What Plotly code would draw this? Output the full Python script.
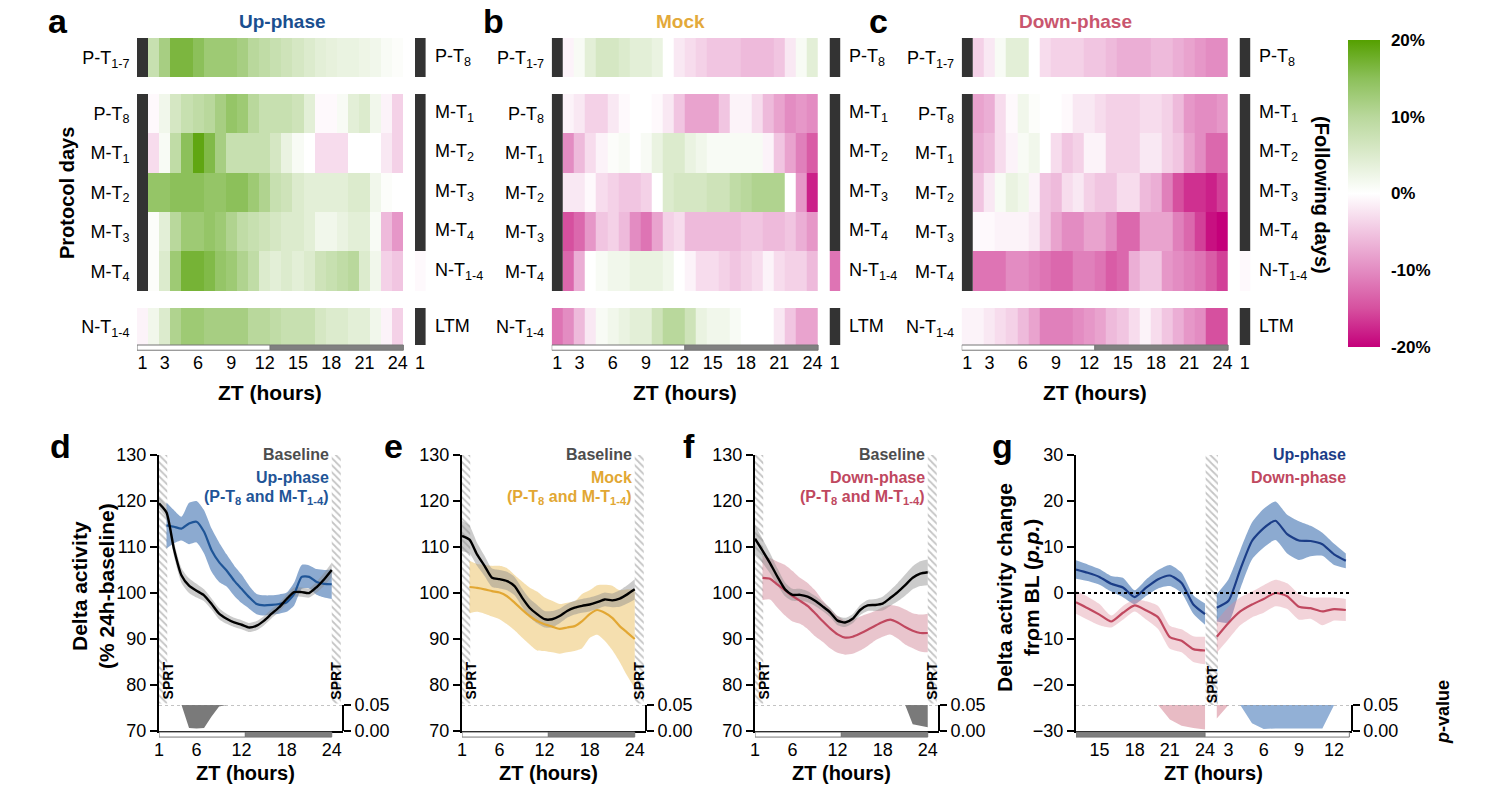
import plotly.graph_objects as go

W, H = 1500, 802
def fx(p): return p / W
def fy(p): return 1 - p / H
FONT = "Liberation Sans, Arial, Helvetica, sans-serif"

# ------------------------------------------------------------------ heatmap data
# % change per ZT hour 1..24 ; None = SPRT hour (drawn black)
hm_tick_vals = [1, 3, 6, 9, 12, 15, 18, 21, 24, 26]
hm_tick_text = ["1", "3", "6", "9", "12", "15", "18", "21", "24", "1"]
row_left = ["P-T<sub>1-7</sub>", "P-T<sub>8</sub>", "M-T<sub>1</sub>", "M-T<sub>2</sub>",
            "M-T<sub>3</sub>", "M-T<sub>4</sub>", "N-T<sub>1-4</sub>"]
row_right = ["P-T<sub>8</sub>", "M-T<sub>1</sub>", "M-T<sub>2</sub>", "M-T<sub>3</sub>",
             "M-T<sub>4</sub>", "N-T<sub>1-4</sub>", "LTM"]

up_P17 = [None, 8, 12, 16.5, 16.5, 15, 13, 13, 13, 12, 10, 9, 8, 7, 6, 5, 4, 3.5, 3, 3, 2.5, 2, 1, 0.5]
up_PT8 = [None, -0.5, 2, 6, 8, 9, 10, 12, 14, 13, 10, 8, 8, 8, 7, 4, -0.5, -0.5, 1, 4, 5, 2, -1, -4]
up_MT1 = [None, -3, 1, 9, 15, 19, 16, 12, 8, 8, 8, 8, 6, 3, 1, 0, -3, -3, -3, 0, 0, 0, -2, -4]
up_MT2 = [None, 14, 14, 15, 15, 15, 14, 14, 15, 15, 13, 11, 8, 7, 5, 4, 4, 4, 4, 5, 5, 2, 0.5, 0]
up_MT3 = [None, 0.5, 4, 10, 13, 13, 14, 13, 11, 9, 8, 7, 6, 5, 5, 4, 2, 2, 3, 4, 4, 1, -6, -9]
up_MT4 = [None, 0.5, 5, 13, 17, 17, 16, 14, 13, 11, 9, 5, 4, 5, 4, 5, 7, 8, 9, 10, 5, 2, -4, -5]
up_NT = [-1, 2, 5, 11, 13, 13, 12, 12, 12, 12, 10, 10, 9, 8, 8, 8, 6, 5, 5, 4, 4, 2, -1, -4]
up_next = [None, None, None, None, None, -0.5, None]

mock_P17 = [None, -1, 1, 4, 6, 6, 5, 4, 4, 3, 0, -2, -3, -4, -5, -5, -5, -6, -6, -6, -5, -2, 1, 4]
mock_PT8 = [None, -1, -2, -4, -4, -2, -0.5, 0, 0, -0.5, -2, -5, -8, -8, -8, -5, -1, -1, -3, -6, -8, -10, -9, -10]
mock_MT1 = [None, -10, -6, -3, -1, 0.5, 1, 0, 1, 3, 5, 5, 3, 2, 1, 1, 1, 1, 1, -1, -5, -8, -11, -14]
mock_MT2 = [None, -2, -2, -0.5, -3, -4, -5, -5, -4, 0, 5, 6, 6, 6, 7, 7, 9, 10, 11, 11, 11, 0, -9, -18]
mock_MT3 = [None, -15, -13, -9, -5, -4, -6, -10, -12, -8, -4, -3, -6, -6, -6, -6, -6, -5, -5, -6, -6, -5, -7, -9]
mock_MT4 = [None, -13, -7, 0, 1, 2, 2, 3, 3, 3, 2, 0, -1, -3, -3, -4, -5, -4, -3, -1, -3, -4, -4, -6]
mock_NT = [-12, -10, -6, -2, 1, 2, 3, 4, 4, 7, 10, 10, 7, 3, 2, 2, 1, 0, 0, 0, -2, -5, -8, -8]
mock_next = [None, None, None, None, None, -12, None]

down_P17 = [None, -4, -2, 1, 4, 4, 0, -3, -4, -4, -4, -5, -5, -6, -7, -7, -7, -6, -6, -7, -8, -9, -10, -10]
down_PT8 = [None, -8, -7, -3, -0.5, 2, 0.5, 0, 0, -0.5, -2, -2, -3, -4, -4, -4, -3, -3, -4, -6, -9, -10, -10, -9]
down_MT1 = [None, -7, -6, -3, -1, 1, 2, 0, -3, -5, -4, -1, -1, -4, -4, -4, -2, -2, -4, -5, -8, -10, -13, -13]
down_MT2 = [None, -5, -2, 1, 3, 2, -1, -5, -6, -3, -2, -4, -5, -5, -3, -3, -6, -7, -11, -15, -17, -17, -18, -16]
down_MT3 = [None, -0.5, -0.5, -1, -1, -1, -2, -5, -8, -10, -10, -8, -8, -10, -13, -13, -8, -8, -8, -11, -13, -16, -19, -20]
down_MT4 = [None, -12, -12, -12, -10, -10, -11, -12, -13, -13, -11, -11, -12, -14, -13, -7, -5, -5, -9, -10, -11, -12, -14, -16]
down_NT = [-1, -1, -2, -3, -4, -6, -8, -11, -11, -11, -10, -9, -8, -6, -5, -3, -1, -3, -5, -7, -9, -10, -15, -15]
down_next = [None, None, None, None, None, -0.5, None]

# ------------------------------------------------------------------ line panel data
zt = list(range(1, 25))
d_base = [119.5, 117.5, 109.5, 103.8, 101.6, 100.5, 99.5, 97.6, 95.5, 94.4, 93.6, 93.1,
          92.5, 92.9, 94.0, 95.5, 96.9, 98.7, 100.2, 100.2, 100.0, 101.3, 103.0, 105.0]
d_base_sem = [1.2, 1.3, 1.5, 1.6, 1.6, 1.5, 1.3, 1.2, 1.2, 1.1, 1.0, 1.0,
              1.0, 1.0, 1.0, 1.0, 1.0, 1.0, 1.0, 1.0, 1.0, 1.2, 1.4, 1.6]
d_up = [None, 114.7, 114.4, 114.0, 115.1, 115.5, 113.3, 109.3, 106.7, 104.9, 102.7, 100.9,
        99.1, 97.6, 97.3, 97.4, 97.6, 98.0, 99.8, 103.5, 103.5, 102.4, 102.0, 101.9]
d_up_sem = [None, 5.0, 3.6, 2.6, 4.5, 4.5, 4.7, 4.7, 4.3, 3.5, 3.3, 3.1,
            2.5, 2.2, 2.2, 2.1, 2.1, 2.1, 2.5, 2.6, 2.5, 2.8, 3.0, 3.2]
d_p = [None, None, None, 0.05, 0.006, 0.005, 0.006, 0.028, 0.047, None, None, None,
       None, None, None, None, None, None, None, None, None, None, None, None]

e_base = [112.4, 111.6, 108.4, 105.9, 103.3, 103.0, 102.6, 101.5, 99.0, 96.8, 95.4, 94.3,
          94.3, 95.0, 96.1, 96.8, 97.2, 97.5, 98.0, 98.6, 98.4, 98.8, 99.7, 100.8]
e_base_sem = [3.3, 3.0, 2.5, 2.2, 2.0, 2.0, 2.0, 2.0, 2.0, 2.0, 2.0, 1.8,
              1.8, 1.6, 1.5, 1.5, 1.5, 1.5, 1.5, 1.5, 1.5, 1.8, 2.0, 2.2]
e_mock = [None, 101.3, 101.1, 100.8, 100.4, 100.1, 99.3, 97.9, 96.4, 95.0, 93.9, 93.2,
          92.7, 92.2, 92.5, 92.8, 93.9, 95.4, 96.3, 95.7, 94.6, 92.8, 91.4, 90.0]
e_mock_sem = [None, 5.7, 5.2, 5.3, 5.5, 5.8, 6.1, 6.0, 6.1, 6.2, 6.4, 5.8,
              5.6, 5.4, 5.4, 5.4, 5.9, 5.2, 5.4, 6.1, 7.0, 7.8, 9.4, 10.7]

f_base = [111.8, 109.2, 106.5, 103.5, 100.8, 99.6, 99.6, 99.2, 98.3, 97.1, 95.8, 94.0,
          93.6, 94.4, 96.3, 97.3, 97.4, 97.7, 98.9, 100.2, 101.7, 103.3, 104.2, 104.5]
f_base_sem = [3.0, 2.6, 2.2, 1.8, 1.5, 1.3, 1.3, 1.2, 1.1, 1.0, 1.0, 1.0,
              1.0, 1.0, 1.1, 1.2, 1.3, 1.5, 1.7, 2.0, 2.3, 2.5, 2.7, 2.8]
f_down = [None, 103.3, 103.1, 101.8, 100.6, 99.3, 98.3, 97.2, 95.6, 93.9, 92.3, 91.0,
          90.3, 90.5, 91.2, 92.0, 92.9, 93.7, 94.2, 93.6, 92.6, 91.8, 91.3, 91.3]
f_down_sem = [None, 4.8, 4.5, 5.0, 5.5, 5.5, 5.0, 5.0, 5.0, 4.5, 4.3, 4.0,
              3.7, 3.7, 3.7, 3.5, 3.2, 3.2, 3.2, 3.5, 3.8, 3.8, 4.0, 4.2]
f_p = [None, None, None, None, None, None, None, None, None, None, None, None,
       None, None, None, None, None, None, None, None, 0.05, 0.013, 0.01, 0.007]

# panel g: ZT 13..24 (baseline day) then ZT 2..13 (after SPRT)
g_hours_a = list(range(13, 25))
g_hours_b = list(range(2, 14))
g_up_a = [5.1, 4.4, 3.5, 2.0, 1.2, -0.9, 1.2, 3.0, 3.8, 2.2, -2.5, -4.6]
g_up_a_sem = [2.0, 1.8, 1.7, 1.7, 2.1, 1.5, 1.8, 2.0, 2.3, 2.2, 2.0, 2.3]
g_up_b = [-3.2, -1.7, 5.1, 11.3, 14.1, 15.7, 12.8, 11.4, 11.3, 10.6, 8.4, 7.0]
g_up_b_sem = [3.0, 4.7, 4.2, 4.0, 4.2, 4.2, 4.2, 4.2, 3.3, 2.5, 2.3, 1.6]
g_dn_a = [-2.0, -3.3, -4.7, -6.2, -4.3, -2.7, -3.8, -5.3, -9.6, -10.4, -12.2, -12.5]
g_dn_a_sem = [2.5, 2.5, 2.3, 1.3, 1.5, 1.3, 2.0, 2.5, 2.5, 2.5, 2.8, 3.0]
g_dn_b = [-9.5, -6.5, -4.0, -2.5, -1.3, 0.0, -0.7, -3.0, -3.3, -4.0, -3.5, -3.7]
g_dn_b_sem = [3.5, 3.5, 3.0, 2.8, 3.0, 2.9, 2.8, 2.8, 2.3, 3.0, 2.5, 2.4]
g_p_dn_a = [None, None, None, None, None, None, None, 0.05, 0.022, 0.01, 0.006, 0.003]
g_p_dn_b = [0.024, 0.05, None, None, None, None, None, None, None, None, None, None]
g_p_up_b = [None, None, 0.05, 0.015, 0.004, 0.005, 0.005, 0.005, 0.005, 0.005, 0.05, None]
g_tick_vals = [15, 18, 21, 24, 26, 29, 32, 35]
g_tick_text = ["15", "18", "21", "24", "3", "6", "9", "12"]

# ------------------------------------------------------------------ colours
CSCALE = [[0.0, "#c4007a"], [0.125, "#d6509f"], [0.25, "#e38cc2"], [0.375, "#f1c5e1"],
          [0.5, "#ffffff"], [0.625, "#dcebcd"], [0.75, "#b9d89c"], [0.875, "#8cc05a"],
          [1.0, "#55a000"]]
BLUE = "#1f5597"
BLUE_G = "#1b3d87"
BLUE_BAND = "rgba(64,113,176,0.6)"
YEL = "#e2a733"
YEL_BAND = "rgba(236,196,110,0.55)"
RED = "#c0485f"
RED_BAND = "rgba(200,110,130,0.40)"
RED_BAND_G = "rgba(220,140,155,0.38)"
GRAY_BAND = "rgba(140,140,140,0.45)"

fig = go.Figure()
shapes = []
annotations = []
layout_axes = {}


def ptext(text, xp, yp, size, color="black", angle=0, xanchor="center", yanchor="middle"):
    annotations.append(dict(text=text, x=fx(xp), y=fy(yp), xref="paper", yref="paper",
                            xanchor=xanchor, yanchor=yanchor, showarrow=False,
                            textangle=angle, font=dict(size=size, color=color)))

# ------------------------------------------------------------------ heatmaps
row_edges = [0, 1, 1.41, 2.41, 3.41, 4.41, 5.41, 6.41, 6.84, 7.78]
row_slots = [0, 2, 3, 4, 5, 6, 8]
row_centers = [(row_edges[s] + row_edges[s + 1]) / 2 for s in row_slots]
col_edges = [h - 0.5 for h in range(1, 28)]


def build(rows, nxt):
    z = [[None] * 26 for _ in range(9)]
    m = [[None] * 26 for _ in range(9)]
    for r, slot in enumerate(row_slots):
        for c, v in enumerate(rows[r]):
            if v is None:
                m[slot][c] = 1
            else:
                z[slot][c] = v
        if nxt[r] is None:
            m[slot][25] = 1
        else:
            z[slot][25] = nxt[r]
    return z, m


hm_panels = [
    ("x", "y", [up_P17, up_PT8, up_MT1, up_MT2, up_MT3, up_MT4, up_NT], up_next, 137.0),
    ("x2", "y2", [mock_P17, mock_PT8, mock_MT1, mock_MT2, mock_MT3, mock_MT4, mock_NT], mock_next, 551.7),
    ("x3", "y3", [down_P17, down_PT8, down_MT1, down_MT2, down_MT3, down_MT4, down_NT], down_next, 961.7),
]

for i, (xa, ya, rows, nxt, x0) in enumerate(hm_panels):
    z, m = build(rows, nxt)
    fig.add_trace(go.Heatmap(x=col_edges, y=row_edges, z=z, coloraxis="coloraxis",
                             xaxis=xa, yaxis=ya, hoverongaps=False))
    fig.add_trace(go.Heatmap(x=col_edges, y=row_edges, z=m,
                             colorscale=[[0, "#333333"], [1, "#333333"]], zmin=0, zmax=1,
                             showscale=False, xaxis=xa, yaxis=ya, hoverongaps=False))
    n = "" if i == 0 else str(i + 1)
    layout_axes["xaxis" + n] = dict(domain=[fx(x0), fx(x0 + 288.6)], range=[0.5, 26.5],
                                    anchor=ya, tickvals=hm_tick_vals, ticktext=hm_tick_text,
                                    ticks="", ticklabelstandoff=5,
                                    showgrid=False, zeroline=False, showline=False,
                                    automargin=False, tickfont=dict(size=18))
    layout_axes["yaxis" + n] = dict(domain=[fy(345), fy(38)], range=[7.78, 0], anchor=xa,
                                    tickvals=row_centers, ticktext=row_left,
                                    ticks="outside", ticklen=3, tickcolor="rgba(0,0,0,0)",
                                    showgrid=False, zeroline=False, showline=False,
                                    automargin=False, tickfont=dict(size=18))
    # light / dark bar
    shapes.append(dict(type="rect", xref=xa, yref=ya + " domain", x0=0.5, x1=12.5,
                       y0=-0.017, y1=0, fillcolor="white", line=dict(color="#777", width=1)))
    shapes.append(dict(type="rect", xref=xa, yref=ya + " domain", x0=12.5, x1=24.5,
                       y0=-0.017, y1=0, fillcolor="#808080", line=dict(color="#777", width=1)))
    for lab, yc in zip(row_right, row_centers):
        annotations.append(dict(text=lab, x=1, xref=xa + " domain", xanchor="left", xshift=7,
                                y=yc, yref=ya, yanchor="middle", showarrow=False,
                                font=dict(size=18)))
    annotations.append(dict(text="<b>ZT (hours)</b>", x=12.5, xref=xa, y=fy(393), yref="paper",
                            xanchor="center", yanchor="middle", showarrow=False,
                            font=dict(size=21)))

# titles / letters
for txt, xp, col in [("Up-phase", 282, "#1a4f8f"), ("Mock", 680, "#e3a93a"),
                     ("Down-phase", 1075, "#c9566e")]:
    ptext("<b>%s</b>" % txt, xp, 22, 19, col)
for txt, xp, yp in [("a", 58, 21), ("b", 494, 21), ("c", 878, 21),
                    ("d", 60, 446), ("e", 393, 446), ("f", 689, 446), ("g", 1002, 446)]:
    ptext("<b>%s</b>" % txt, xp, yp, 34)
ptext("<b>Protocol days</b>", 67, 193, 20, angle=-90)
ptext("<b>(Following days)</b>", 1322, 195, 20, angle=90)

# ------------------------------------------------------------------ line panel helpers
def band(x, mean, sem, color, xa, ya):
    pts = [(xi, m, s) for xi, m, s in zip(x, mean, sem) if m is not None]
    xs = [p[0] for p in pts]
    fig.add_trace(go.Scatter(x=xs, y=[p[1] + p[2] for p in pts], mode="lines",
                             line=dict(width=0, shape="spline", smoothing=0.6),
                             xaxis=xa, yaxis=ya, hoverinfo="skip", showlegend=False))
    fig.add_trace(go.Scatter(x=xs, y=[p[1] - p[2] for p in pts], mode="lines",
                             line=dict(width=0, shape="spline", smoothing=0.6),
                             fill="tonexty", fillcolor=color,
                             xaxis=xa, yaxis=ya, hoverinfo="skip", showlegend=False))


def line(x, mean, color, xa, ya, width=2.2):
    pts = [(xi, m) for xi, m in zip(x, mean) if m is not None]
    fig.add_trace(go.Scatter(x=[p[0] for p in pts], y=[p[1] for p in pts], mode="lines",
                             line=dict(color=color, width=width, shape="spline", smoothing=0.6),
                             xaxis=xa, yaxis=ya, hoverinfo="skip", showlegend=False))


def pfill(x, p, color, xa, ya):
    thr = [0.05 for _ in x]
    low = [min(v, 0.05) if v is not None else 0.05 for v in p]
    fig.add_trace(go.Scatter(x=x, y=thr, mode="lines", line=dict(width=0),
                             xaxis=xa, yaxis=ya, hoverinfo="skip", showlegend=False))
    fig.add_trace(go.Scatter(x=x, y=low, mode="lines", line=dict(width=0), fill="tonexty",
                             fillcolor=color, xaxis=xa, yaxis=ya, hoverinfo="skip",
                             showlegend=False))


def hatch(x0, x1, y0, y1, xa, ya):
    fig.add_trace(go.Scatter(x=[x0, x1, x1, x0, x0], y=[y0, y0, y1, y1, y0], mode="lines",
                             line=dict(width=0), fill="toself", fillcolor="white",
                             fillpattern=dict(shape="\\", fgcolor="#8a8a8a", bgcolor="white",
                                              size=5, solidity=0.35),
                             xaxis=xa, yaxis=ya, hoverinfo="skip", showlegend=False))


def sprt(x, y, xa, ya):
    annotations.append(dict(text="<b>SPRT</b>", x=x, y=y, xref=xa, yref=ya, showarrow=False,
                            xanchor="center", yanchor="middle",
                            textangle=-90, font=dict(size=14, color="black")))


AX_LINE = dict(showline=True, linecolor="black", linewidth=2, showgrid=False, zeroline=False,
               automargin=False)
MAIN_DOM_Y = [fy(731), fy(455)]
P_DOM_Y = [fy(731), fy(705)]


def main_axes(n, pn, x0, x1, xrange, xtv, xtt, yrange, ytv):
    layout_axes["xaxis%d" % n] = dict(domain=[fx(x0), fx(x1)], range=xrange, anchor="y%d" % n,
                                      tickvals=xtv, ticktext=xtt, ticks="", ticklabelstandoff=1,
                                      tickfont=dict(size=18), **AX_LINE)
    layout_axes["yaxis%d" % n] = dict(domain=MAIN_DOM_Y, range=yrange, anchor="x%d" % n,
                                      tickvals=ytv, ticks="outside", ticklen=7, tickwidth=2,
                                      tickcolor="black", tickfont=dict(size=18), **AX_LINE)
    layout_axes["yaxis%d" % pn] = dict(domain=P_DOM_Y, range=[0, 0.05], anchor="free",
                                       position=fx(x1), side="right", tickvals=[0, 0.05],
                                       ticktext=["0.00", "0.05"], ticks="outside", ticklen=7,
                                       tickwidth=2, tickcolor="black", tickfont=dict(size=18),
                                       **AX_LINE)
    shapes.append(dict(type="line", xref="x%d domain" % n, yref="y%d" % pn, x0=0, x1=1,
                       y0=0.05, y1=0.05, line=dict(color="#888", width=1, dash="dot")))


def daybar(xa, ya, a0, a1, a2, first_light=True):
    c1, c2 = ("white", "#7f7f7f") if first_light else ("#7f7f7f", "white")
    shapes.append(dict(type="rect", xref=xa, yref=ya + " domain", x0=a0, x1=a1, y0=-0.022,
                       y1=-0.004, fillcolor=c1, line=dict(color="#777", width=1)))
    shapes.append(dict(type="rect", xref=xa, yref=ya + " domain", x0=a1, x1=a2, y0=-0.022,
                       y1=-0.004, fillcolor=c2, line=dict(color="#777", width=1)))


def legend(lines, xr):
    for txt, col, yp in lines:
        ptext("<b>%s</b>" % txt, xr, yp, 16, col, xanchor="right")


sub_lbl = "(P-T<sub>8</sub> and M-T<sub>1-4</sub>)"

# panels d, e, f
lp = [
    (4, 8, 159, d_base, d_base_sem, d_up, d_up_sem, BLUE, BLUE_BAND, d_p, "Up-phase"),
    (5, 9, 462, e_base, e_base_sem, e_mock, e_mock_sem, YEL, YEL_BAND, None, "Mock"),
    (6, 10, 755, f_base, f_base_sem, f_down, f_down_sem, RED, RED_BAND, f_p, "Down-phase"),
]
for n, pn, x0, base, base_sem, tr, tr_sem, col, bcol, pv, name in lp:
    xa, ya, pa = "x%d" % n, "y%d" % n, "y%d" % pn
    main_axes(n, pn, x0, x0 + 184, [1, 25.5], [1, 6, 12, 18, 24], ["1", "6", "12", "18", "24"],
              [70, 130], [70, 80, 90, 100, 110, 120, 130])
    hatch(1, 2.1, 76, 130, xa, ya)
    hatch(24, 25.2, 76, 130, xa, ya)
    band(zt, tr, tr_sem, bcol, xa, ya)
    band(zt, base, base_sem, GRAY_BAND, xa, ya)
    line(zt, tr, col, xa, ya)
    line(zt, base, "black", xa, ya, 2.4)
    if pv is not None:
        pfill(zt, pv, "#7a7a7a", xa, pa)
    sprt(2.2, 81, xa, ya)
    sprt(24.6, 81, xa, ya)
    daybar(xa, ya, 1, 12.5, 24)
    legend([("Baseline", "#4d4d4d", 454), (name, col, 477), (sub_lbl, col, 497)], x0 + 172)
    annotations.append(dict(text="<b>ZT (hours)</b>", x=12.5, xref=xa, y=fy(773), yref="paper",
                            xanchor="center", yanchor="middle", showarrow=False,
                            font=dict(size=20)))

ptext("<b>Delta activity</b>", 79, 586, 21, angle=-90)
ptext("<b>(% 24h-baseline)</b>", 106, 586, 21, angle=-90)

# panel g
xa, ya, pa = "x7", "y7", "y11"
main_axes(7, 11, 1076, 1351.7, [13, 36.5], g_tick_vals, g_tick_text,
          [-30, 30], [-30, -20, -10, 0, 10, 20, 30])
pos_a = g_hours_a
pos_b = [h + 23 for h in g_hours_b]
hatch(24.05, 25.1, -27, 30, xa, ya)
band(pos_a, g_up_a, g_up_a_sem, BLUE_BAND, xa, ya)
band(pos_b, g_up_b, g_up_b_sem, BLUE_BAND, xa, ya)
band(pos_a, g_dn_a, g_dn_a_sem, RED_BAND_G, xa, ya)
band(pos_b, g_dn_b, g_dn_b_sem, RED_BAND_G, xa, ya)
line(pos_a, g_up_a, BLUE_G, xa, ya)
line(pos_b, g_up_b, BLUE_G, xa, ya)
line(pos_a, g_dn_a, RED, xa, ya)
line(pos_b, g_dn_b, RED, xa, ya)
pfill(pos_a, g_p_dn_a, "rgba(220,150,165,0.65)", xa, pa)
pfill(pos_b, g_p_dn_b, "rgba(220,150,165,0.65)", xa, pa)
pfill(pos_b, g_p_up_b, "rgba(110,150,200,0.75)", xa, pa)
shapes.append(dict(type="line", xref=xa, yref=ya, x0=13, x1=36.3, y0=0, y1=0,
                   line=dict(color="black", width=2, dash="dot")))
sprt(24.6, -19.8, xa, ya)
daybar(xa, ya, 13, 24, 36.3, first_light=False)
legend([("Up-phase", BLUE_G, 454), ("Down-phase", RED, 477)], 1348)
ptext("<b>ZT (hours)</b>", 1213, 773, 20)
ptext("<b>Delta activity change</b>", 1004, 588, 21, angle=-90)
ptext("<b>from BL (<i>p.p.</i>)</b>", 1031, 588, 21, angle=-90)
ptext("<b><i>p</i>-value</b>", 1443, 712, 18, angle=-90)

# ------------------------------------------------------------------ layout
fig.update_layout(
    width=W, height=H, margin=dict(l=0, r=0, t=0, b=0, autoexpand=False),
    paper_bgcolor="white", plot_bgcolor="white", showlegend=False,
    font=dict(family=FONT, color="black", size=18),
    coloraxis=dict(colorscale=CSCALE, cmin=-20, cmax=20,
                   colorbar=dict(x=fx(1348), xanchor="left", y=fy(193.5), yanchor="middle",
                                 len=307 / H, lenmode="fraction", thickness=32,
                                 thicknessmode="pixels", outlinewidth=0, xpad=0, ypad=0,
                                 tickvals=[-20, -10, 0, 10, 20],
                                 ticktext=["<b>-20%</b>", "<b>-10%</b>", "<b>0%</b>",
                                           "<b>10%</b>", "<b>20%</b>"],
                                 ticks="outside", ticklen=8, tickcolor="rgba(0,0,0,0)",
                                 tickfont=dict(size=17))),
    shapes=shapes, annotations=annotations,
    **layout_axes,
)

fig.write_html("out.html", config={"displayModeBar": False},
               post_script="document.body.style.margin='0';document.body.style.overflow='hidden';")
